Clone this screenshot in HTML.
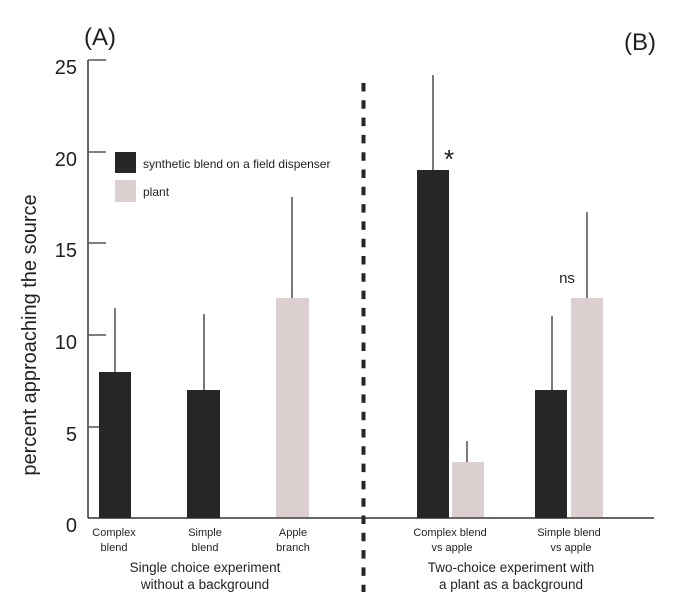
<!DOCTYPE html>
<html>
<head>
<meta charset="utf-8">
<style>
html,body{margin:0;padding:0;background:#fff;}
svg{display:block;}
text{font-family:"Liberation Sans","DejaVu Sans",sans-serif;fill:#231f20;}
</style>
</head>
<body>
<svg width="700" height="604" viewBox="0 0 700 604" xmlns="http://www.w3.org/2000/svg">
<rect width="700" height="604" fill="#fff"/>

<!-- panel labels -->
<text x="84" y="45" font-size="24">(A)</text>
<text x="624" y="50" font-size="24">(B)</text>

<!-- y axis -->
<line x1="88" y1="60" x2="88" y2="518" stroke="#333" stroke-width="1.5"/>
<g stroke="#555" stroke-width="1.5">
<line x1="88" y1="60" x2="106" y2="60"/>
<line x1="88" y1="152" x2="106" y2="152"/>
<line x1="88" y1="243" x2="106" y2="243"/>
<line x1="88" y1="335" x2="106" y2="335"/>
<line x1="88" y1="427" x2="106" y2="427"/>
</g>
<g font-size="20" text-anchor="end">
<text x="77" y="74">25</text>
<text x="77" y="166">20</text>
<text x="77" y="257">15</text>
<text x="77" y="349">10</text>
<text x="77" y="441">5</text>
<text x="77" y="532">0</text>
</g>
<text transform="translate(36,335) rotate(-90)" font-size="20" text-anchor="middle">percent approaching the source</text>

<!-- x axis -->
<line x1="88" y1="518" x2="654" y2="518" stroke="#333" stroke-width="1.5"/>

<!-- legend -->
<rect x="115" y="152" width="21" height="21" fill="#262626"/>
<rect x="115" y="180" width="21" height="22" fill="#dccfd0"/>
<text x="143" y="168" font-size="12">synthetic blend on a field dispenser</text>
<text x="143" y="196" font-size="12">plant</text>

<!-- error bars (drawn behind) -->
<g stroke="#333" stroke-width="1.3">
<line x1="115" y1="308" x2="115" y2="372"/>
<line x1="204" y1="314" x2="204" y2="390"/>
<line x1="292" y1="197" x2="292" y2="298"/>
<line x1="433" y1="75" x2="433" y2="170"/>
<line x1="467" y1="441" x2="467" y2="462"/>
<line x1="552" y1="316" x2="552" y2="390"/>
<line x1="587" y1="212" x2="587" y2="298"/>
</g>

<!-- bars -->
<rect x="99" y="372" width="32" height="146" fill="#262626"/>
<rect x="187" y="390" width="33" height="128" fill="#262626"/>
<rect x="276" y="298" width="33" height="219" fill="#dccfd0"/>
<rect x="417" y="170" width="32" height="348" fill="#262626"/>
<rect x="452" y="462" width="32" height="55" fill="#dccfd0"/>
<rect x="535" y="390" width="32" height="128" fill="#262626"/>
<rect x="571" y="298" width="32" height="219" fill="#dccfd0"/>

<!-- dashed divider -->
<line x1="363.5" y1="83" x2="363.5" y2="592" stroke="#262626" stroke-width="4" stroke-dasharray="8.5 8.8"/>

<!-- annotations -->
<text x="449" y="168" font-size="26" text-anchor="middle">*</text>
<text x="567" y="283" font-size="15" text-anchor="middle">ns</text>

<!-- category labels -->
<g font-size="11" text-anchor="middle">
<text x="114" y="536">Complex</text>
<text x="114" y="551">blend</text>
<text x="205" y="536">Simple</text>
<text x="205" y="551">blend</text>
<text x="293" y="536">Apple</text>
<text x="293" y="551">branch</text>
<text x="450" y="536">Complex blend</text>
<text x="452" y="551">vs apple</text>
<text x="569" y="536">Simple blend</text>
<text x="571" y="551">vs apple</text>
</g>
<g font-size="13.5" text-anchor="middle">
<text x="205" y="572">Single choice experiment</text>
<text x="205" y="589">without a background</text>
<text x="511" y="572">Two-choice experiment with</text>
<text x="511" y="589">a plant as a background</text>
</g>
</svg>
</body>
</html>
